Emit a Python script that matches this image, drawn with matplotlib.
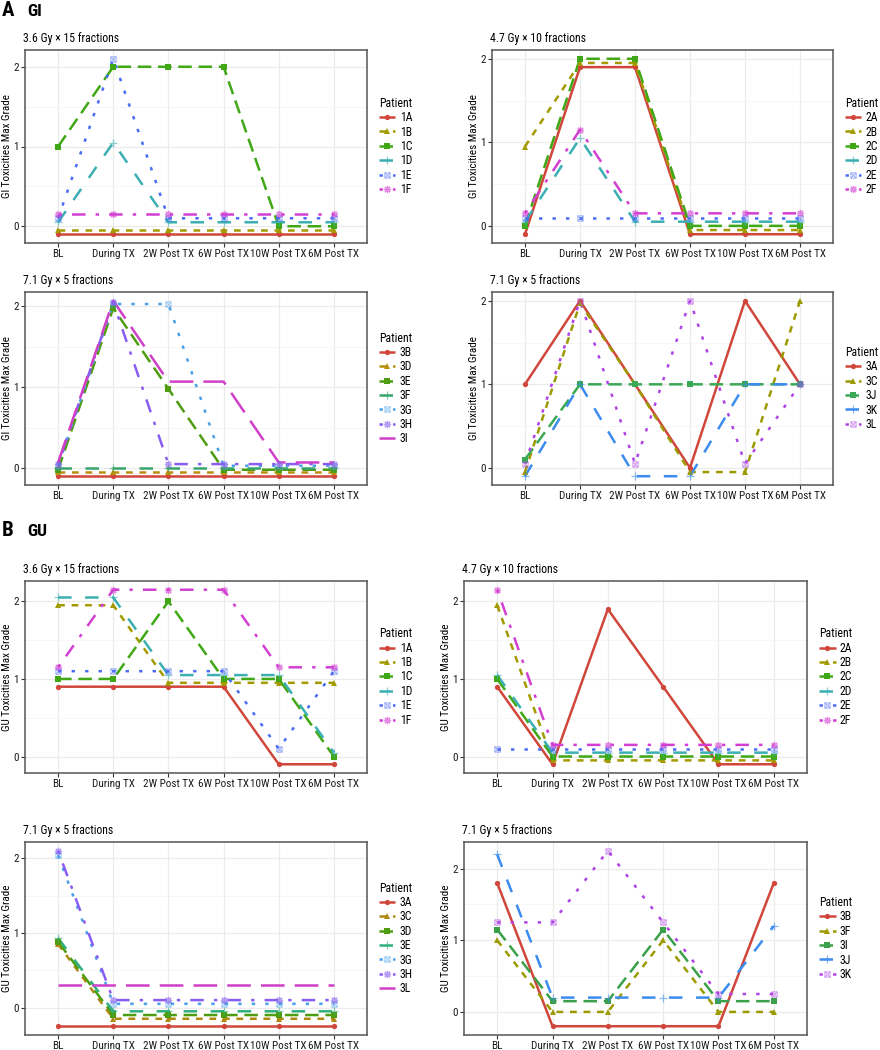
import matplotlib
matplotlib.use("Agg")
import matplotlib.pyplot as plt
from matplotlib import font_manager
from matplotlib.colors import to_rgba
from matplotlib.path import Path
from matplotlib.lines import Line2D

# ---------------- data ----------------
times = ['BL', 'During TX', '2W Post TX', '6W Post TX', '10W Post TX', '6M Post TX']

gi_a_title = '3.6 Gy × 15 fractions'
gi_a_patients = ['1A', '1B', '1C', '1D', '1E', '1F']
gi_a_values = [
    [-0.10, -0.10, -0.10, -0.10, -0.10, -0.10],
    [-0.05, -0.05, -0.05, -0.05, -0.05, -0.05],
    [1.00, 2.00, 2.00, 2.00, 0.00, 0.00],
    [0.05, 1.05, 0.05, 0.05, 0.05, 0.05],
    [0.10, 2.10, 0.10, 0.10, 0.10, 0.10],
    [0.15, 0.15, 0.15, 0.15, 0.15, 0.15],
]

gi_b_title = '4.7 Gy × 10 fractions'
gi_b_patients = ['2A', '2B', '2C', '2D', '2E', '2F']
gi_b_values = [
    [-0.10, 1.90, 1.90, -0.10, -0.10, -0.10],
    [0.95, 1.95, 1.95, -0.05, -0.05, -0.05],
    [0.00, 2.00, 2.00, 0.00, 0.00, 0.00],
    [0.05, 1.05, 0.05, 0.05, 0.05, 0.05],
    [0.10, 0.10, 0.10, 0.10, 0.10, 0.10],
    [0.15, 1.15, 0.15, 0.15, 0.15, 0.15],
]

gi_c_title = '7.1 Gy × 5 fractions'
gi_c_patients = ['3B', '3D', '3E', '3F', '3G', '3H', '3I']
gi_c_values = [
    [-0.10, -0.10, -0.10, -0.10, -0.10, -0.10],
    [-0.05, -0.05, -0.05, -0.05, -0.05, -0.05],
    [-0.02, 1.98, 0.98, -0.02, -0.02, -0.02],
    [0.00, 0.00, 0.00, 0.00, 0.00, 0.00],
    [0.03, 2.03, 2.03, 0.03, 0.03, 0.03],
    [0.05, 2.05, 0.05, 0.05, 0.05, 0.05],
    [0.07, 2.07, 1.07, 1.07, 0.07, 0.07],
]

gi_d_title = '7.1 Gy × 5 fractions'
gi_d_patients = ['3A', '3C', '3J', '3K', '3L']
gi_d_values = [
    [1.00, 2.00, 1.00, 0.00, 2.00, 1.00],
    [-0.05, 1.97, 1.00, -0.05, -0.05, 2.00],
    [0.10, 1.00, 1.00, 1.00, 1.00, 1.00],
    [-0.10, 1.00, -0.10, -0.10, 1.00, 1.00],
    [0.05, 2.00, 0.05, 2.00, 0.05, 1.00],
]

gu_a_title = '3.6 Gy × 15 fractions'
gu_a_patients = ['1A', '1B', '1C', '1D', '1E', '1F']
gu_a_values = [
    [0.90, 0.90, 0.90, 0.90, -0.10, -0.10],
    [1.95, 1.95, 0.95, 0.95, 0.95, 0.95],
    [1.00, 1.00, 2.00, 1.00, 1.00, 0.00],
    [2.05, 2.05, 1.05, 1.05, 1.05, 0.05],
    [1.10, 1.10, 1.10, 1.10, 0.10, 1.10],
    [1.15, 2.15, 2.15, 2.15, 1.15, 1.15],
]

gu_b_title = '4.7 Gy × 10 fractions'
gu_b_patients = ['2A', '2B', '2C', '2D', '2E', '2F']
gu_b_values = [
    [0.90, -0.10, 1.90, 0.90, -0.10, -0.10],
    [1.95, -0.05, -0.05, -0.05, -0.05, -0.05],
    [1.00, 0.00, 0.00, 0.00, 0.00, 0.00],
    [1.05, 0.05, 0.05, 0.05, 0.05, 0.05],
    [0.10, 0.10, 0.10, 0.10, 0.10, 0.10],
    [2.15, 0.15, 0.15, 0.15, 0.15, 0.15],
]

gu_c_title = '7.1 Gy × 5 fractions'
gu_c_patients = ['3A', '3C', '3D', '3E', '3G', '3H', '3L']
gu_c_values = [
    [-0.25, -0.25, -0.25, -0.25, -0.25, -0.25],
    [0.85, -0.15, -0.15, -0.15, -0.15, -0.15],
    [0.88, -0.10, -0.10, -0.10, -0.10, -0.10],
    [0.93, -0.05, -0.05, -0.05, -0.05, -0.05],
    [2.04, 0.05, 0.05, 0.05, 0.05, 0.05],
    [2.10, 0.10, 0.10, 0.10, 0.10, 0.10],
    [0.30, 0.30, 0.30, 0.30, 0.30, 0.30],
]

gu_d_title = '7.1 Gy × 5 fractions'
gu_d_patients = ['3B', '3F', '3I', '3J', '3K']
gu_d_values = [
    [1.80, -0.20, -0.20, -0.20, -0.20, 1.80],
    [1.00, 0.00, 0.00, 1.00, 0.00, 0.00],
    [1.15, 0.15, 0.15, 1.15, 0.15, 0.15],
    [2.20, 0.20, 0.20, 0.20, 0.20, 1.20],
    [1.25, 1.25, 2.25, 1.25, 0.25, 0.25],
]

# ---------------- styles ----------------
RED = '#D0463B'
gi_a_colors = [RED, '#A39A00', '#3FA814', '#3BAFB2', '#4A6CF5', '#D23FD2']
gi_b_colors = gi_a_colors
gi_c_colors = [RED, '#B8900C', '#4E9C10', '#38A56C', '#4AA0E8', '#8A5CF0', '#D03FC8']
gi_d_colors = [RED, '#9C9A00', '#3AA855', '#3C8CF0', '#B043E6']
gu_a_colors = gi_a_colors
gu_b_colors = gi_a_colors
gu_c_colors = [RED, '#B08A10', '#4E9C10', '#30B07E', '#4AA0E8', '#8A5CF0', '#D03FC8']
gu_d_colors = [RED, '#9C9A00', '#3AA04A', '#3C8CF0', '#B043E6']

W, H = 880, 1050

# ---- font: prefer a condensed sans face if one is installed ----
entries = font_manager.fontManager.ttflist
FS = 8.5
TFS = 8.0
chosen = None
cond = []
for f in entries:
    nm = f.name.lower()
    fn = f.fname.lower()
    st = str(f.stretch).lower()
    is_cond = ('condensed' in st and 'semi' not in st and 'extra' not in st and 'ultra' not in st) \
        or 'narrow' in nm or ('condensed' in nm and 'extra' not in nm and 'semi' not in nm) \
        or ('condensed' in fn and 'extra' not in fn and 'semi' not in fn)
    if is_cond and f.style == 'normal' and f.weight in (400, 'normal', 'regular'):
        cond.append(f)
prefs = ['roboto', 'liberation', 'open sans', 'noto sans', 'dejavu sans']
for p in prefs:
    for f in cond:
        if f.name.lower().startswith(p) and 'mono' not in f.name.lower() and 'cjk' not in f.name.lower():
            chosen = f
            break
    if chosen:
        break
if chosen is not None:
    plt.rcParams['font.family'] = [chosen.name, 'DejaVu Sans']
    plt.rcParams['font.stretch'] = chosen.stretch
else:
    names = {f.name for f in entries}
    plt.rcParams['font.family'] = ['Roboto' if 'Roboto' in names else 'DejaVu Sans', 'DejaVu Sans']
    FS = 7.6
    TFS = 7.2

sq_cross = Path(
    [(-1, -1), (1, -1), (1, 1), (-1, 1), (-1, -1), (-1, -1), (1, 1), (-1, 1), (1, -1)],
    [Path.MOVETO, Path.LINETO, Path.LINETO, Path.LINETO, Path.LINETO,
     Path.MOVETO, Path.LINETO, Path.MOVETO, Path.LINETO])

K = 1.35
dash_list = [None, (2 * K, 2 * K), (4 * K, 2 * K), (4 * K, 4 * K), (1 * K, 3 * K),
             (1 * K, 3 * K, 4 * K, 3 * K), (7 * K, 3 * K)]
marker_list = ['o', '^', 's', '+', sq_cross, (8, 2, 0), None]
msize_list = [3.8, 4.2, 3.8, 5.2, 3.8, 5.2, 0]
LW = 1.8

fig = plt.figure(figsize=(W / 100, H / 100), dpi=100)


def marker_kw(i, color):
    m = marker_list[i]
    if m is None:
        return {}
    mk = dict(marker=m, ms=msize_list[i])
    if m is sq_cross:
        mk.update(mfc='none', mec=to_rgba(color, 0.55), mew=0.7)
    elif isinstance(m, tuple) or m == '+':
        mk.update(mec=to_rgba(color, 0.6), mew=0.9)
    else:
        mk.update(mfc=color, mec=color, mew=0)
    return mk


def line_kw(i, color):
    d = dash_list[i]
    kw = dict(color=color, lw=LW, solid_capstyle='butt', dash_capstyle='butt')
    if d is None:
        kw['linestyle'] = '-'
    else:
        kw['dashes'] = d
    return kw


def panel(box, title, patients, values, colors, ylabel):
    l, t, r, b = box
    ax = fig.add_axes([l / W, 1 - b / H, (r - l) / W, (b - t) / H])
    x = list(range(len(times)))
    handles = []
    for i, (p, vals) in enumerate(zip(patients, values)):
        kw = line_kw(i, colors[i])
        ax.plot(x, vals, zorder=3, **kw)
        handles.append(Line2D([0], [0], **{**kw, **marker_kw(i, colors[i])}))
    for i, vals in enumerate(values):
        mk = marker_kw(i, colors[i])
        if not mk:
            continue
        ax.plot(x, vals, linestyle='none', zorder=4, **mk)
    allv = [v for row in values for v in row]
    lo, hi = min(allv), max(allv)
    pad = 0.05 * (hi - lo)
    ax.set_ylim(lo - pad, hi + pad)
    ax.set_xlim(-0.6, len(times) - 0.4)
    ax.set_xticks(x)
    ax.set_xticklabels(times)
    ax.set_yticks([0, 1, 2])
    ax.set_yticks([0.5, 1.5], minor=True)
    ax.tick_params(axis='both', which='major', labelsize=TFS, length=3, width=0.8,
                   color='#333333', labelcolor='#1a1a1a', pad=1.5)
    ax.tick_params(axis='y', which='minor', length=0)
    ax.grid(True, which='major', color='#EBEBEB', lw=0.9, zorder=0)
    ax.grid(True, which='minor', axis='y', color='#F3F3F3', lw=0.5, zorder=0)
    ax.set_axisbelow(True)
    for s in ax.spines.values():
        s.set_color('#555555')
        s.set_linewidth(1.1)
    ax.set_title(title, loc='left', fontsize=FS, pad=6, x=-0.005)
    ax.set_ylabel(ylabel, fontsize=TFS, labelpad=0.5)
    ax.legend(handles, patients, title='Patient', loc='center left',
              bbox_to_anchor=(1.035, 0.5), frameon=False, fontsize=FS,
              title_fontsize=FS, handlelength=1.4, handletextpad=0.35,
              labelspacing=0.12, borderaxespad=0, alignment='left',
              borderpad=0)
    return ax


panel((25, 50, 367, 243), gi_a_title, gi_a_patients, gi_a_values, gi_a_colors, 'GI Toxicities Max Grade')
panel((492, 50, 833, 243), gi_b_title, gi_b_patients, gi_b_values, gi_b_colors, 'GI Toxicities Max Grade')
panel((25, 292, 367, 485), gi_c_title, gi_c_patients, gi_c_values, gi_c_colors, 'GI Toxicities Max Grade')
panel((492, 292, 833, 485), gi_d_title, gi_d_patients, gi_d_values, gi_d_colors, 'GI Toxicities Max Grade')
panel((25, 581, 367, 773), gu_a_title, gu_a_patients, gu_a_values, gu_a_colors, 'GU Toxicities Max Grade')
panel((464, 581, 807, 773), gu_b_title, gu_b_patients, gu_b_values, gu_b_colors, 'GU Toxicities Max Grade')
panel((25, 842, 367, 1035), gu_c_title, gu_c_patients, gu_c_values, gu_c_colors, 'GU Toxicities Max Grade')
panel((464, 842, 807, 1035), gu_d_title, gu_d_patients, gu_d_values, gu_d_colors, 'GU Toxicities Max Grade')

fig.text(2 / W, 1 - 11 / H, 'A', fontsize=15, fontweight='bold', va='center', ha='left')
fig.text(27 / W, 1 - 12 / H, 'GI', fontsize=12.5, fontweight='bold', va='center', ha='left')
fig.text(2 / W, 1 - 530 / H, 'B', fontsize=15, fontweight='bold', va='center', ha='left')
fig.text(27 / W, 1 - 531 / H, 'GU', fontsize=12.5, fontweight='bold', va='center', ha='left')

fig.savefig('out.png', dpi=100, facecolor='white')
